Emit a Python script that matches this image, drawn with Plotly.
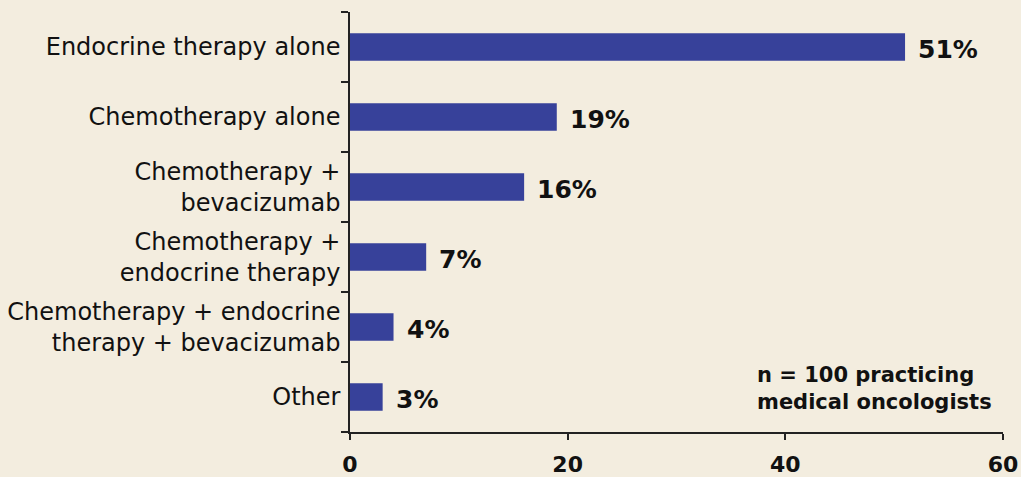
import plotly.graph_objects as go

categories = [
    "Endocrine therapy alone",
    "Chemotherapy alone",
    "Chemotherapy +<br>bevacizumab",
    "Chemotherapy +<br>endocrine therapy",
    "Chemotherapy + endocrine<br>therapy + bevacizumab",
    "Other",
]
percentages = [51, 19, 16, 7, 4, 3]
x_ticks = [0, 20, 40, 60]
note_text = "n = 100 practicing<br>medical oncologists"

bg = "#f3eddf"
bar_color = "#37419a"
font_family = "Verdana, DejaVu Sans, sans-serif"

fig = go.Figure()
fig.add_trace(go.Bar(
    x=percentages,
    y=categories,
    orientation="h",
    marker=dict(color=bar_color, line=dict(width=0)),
    width=0.39,
    hoverinfo="skip",
))

for cat, val in zip(categories, percentages):
    fig.add_annotation(
        x=val, y=cat, text=f"<b>{val}%</b>", showarrow=False,
        xanchor="left", yanchor="middle", xshift=11, yshift=-2,
        font=dict(family=font_family, size=25, color="#111111"),
    )

fig.add_annotation(
    x=37.2, y=categories[-1], text=f"<b>{note_text}</b>", showarrow=False,
    xanchor="left", yanchor="middle", align="left", yshift=9,
    font=dict(family=font_family, size=21, color="#111111"),
)

fig.update_layout(
    width=1021, height=477,
    margin=dict(l=350, r=18, t=12, b=45),
    paper_bgcolor=bg, plot_bgcolor=bg,
    showlegend=False,
    font=dict(family=font_family, color="#111111"),
)
fig.update_xaxes(
    range=[0, 60], tickvals=x_ticks, ticktext=[f"<b>{t}</b>" for t in x_ticks],
    showgrid=False, zeroline=False, showline=True, linecolor="#222222", linewidth=1.5,
    ticks="outside", ticklen=6, tickcolor="#222222", tickwidth=1.5,
    tickfont=dict(family=font_family, size=22, color="#111111"),
    ticklabelstandoff=6, fixedrange=True, automargin=False,
)
fig.update_yaxes(
    categoryorder="array", categoryarray=categories[::-1],
    showgrid=False, zeroline=False, showline=True, linecolor="#222222", linewidth=1.5,
    ticks="outside", ticklen=7, tickcolor="#222222", tickwidth=1.5, tickson="boundaries",
    tickfont=dict(family=font_family, size=24, color="#111111"),
    ticklabelstandoff=3, fixedrange=True, automargin=False,
)

fig.write_html("out.html")
